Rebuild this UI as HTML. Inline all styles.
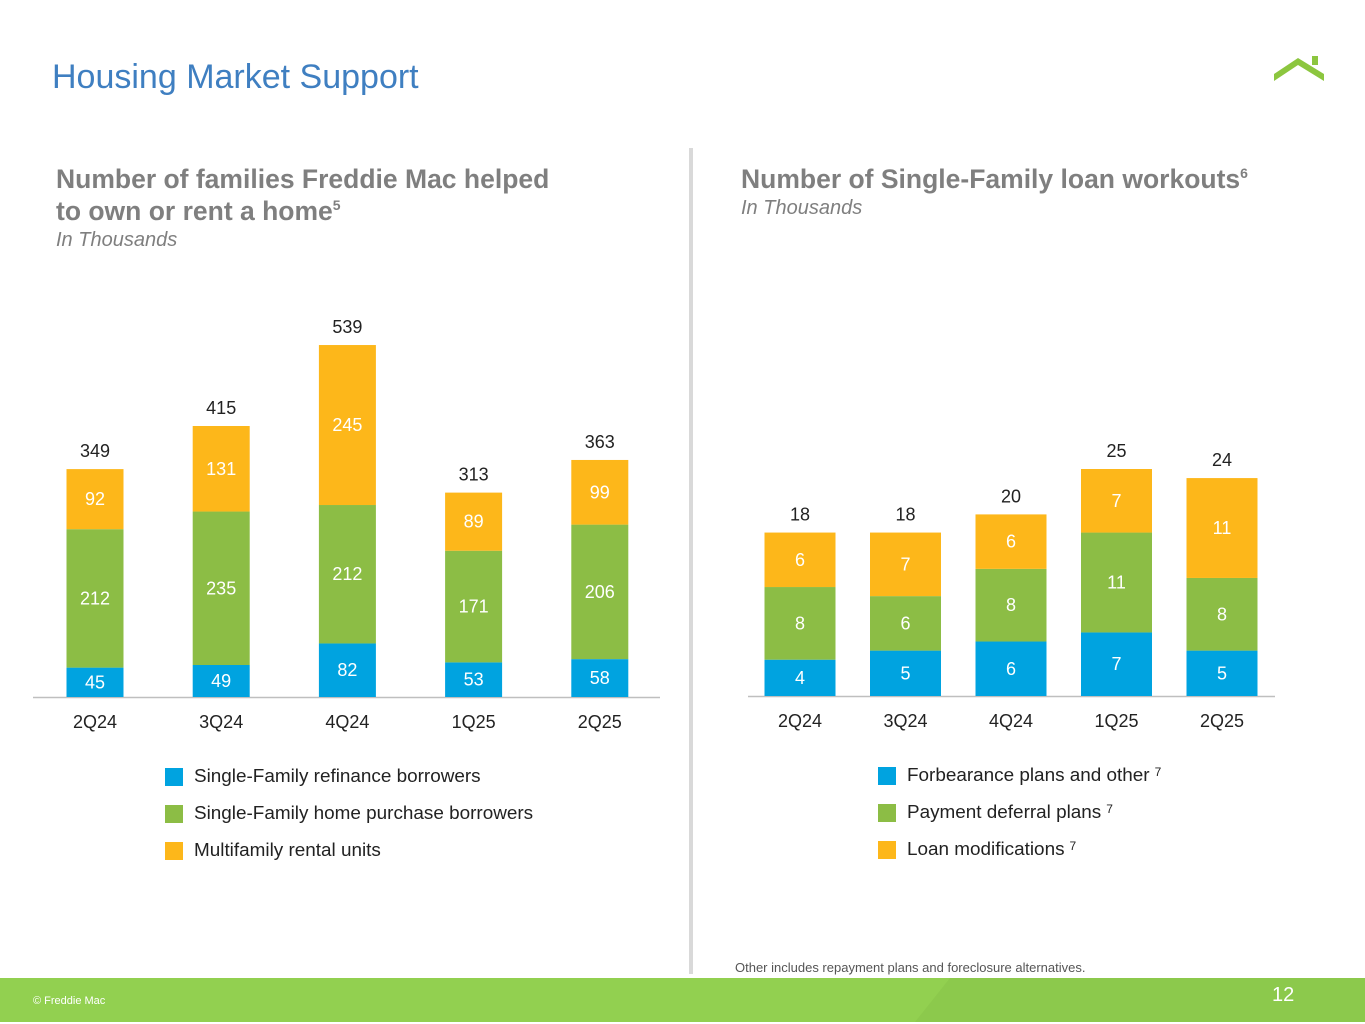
<!DOCTYPE html>
<html><head><meta charset="utf-8"><style>
body{margin:0;width:1365px;height:1024px;position:relative;background:#fff;font-family:"Liberation Sans",Arial,sans-serif;overflow:hidden}
.abs{position:absolute}
h1{position:absolute;left:52px;top:58px;margin:0;font-size:34px;font-weight:normal;color:#3f7fc1}
.ct{position:absolute;font-size:26.5px;font-weight:bold;color:#7f7f7f;line-height:32px}
.ct sup{font-size:14px;line-height:0;vertical-align:0;position:relative;top:-10px}
.sub{font-size:20px;font-style:italic;font-weight:normal;color:#7f7f7f;line-height:26px}
.leg{position:absolute;font-size:18.9px;color:#222;display:flex;align-items:center}
.leg span.sw{display:inline-block;width:18px;height:18px;margin-right:11px}
.leg sup{font-size:12px;margin-left:5px;position:relative;top:-4px}
</style></head><body>
<h1>Housing Market Support</h1>
<svg class="abs" style="left:1272px;top:54px" width="54" height="28"><polygon points="2,20 26,4 52,20 52,27 26,11 2,27" fill="#8cc63f"/><rect x="40" y="2" width="6" height="9" fill="#8cc63f"/></svg>
<div class="ct" style="left:56px;top:163px">Number of families Freddie Mac helped<br>to own or rent a home<sup>5</sup><div class="sub">In Thousands</div></div>
<div class="ct" style="left:741px;top:163px">Number of Single-Family loan workouts<sup>6</sup><div class="sub">In Thousands</div></div>
<div class="abs" style="left:689px;top:148px;width:4px;height:826px;background:#d9d9d9"></div>
<svg id="left" class="abs" style="left:0;top:0" width="690" height="760"></svg>
<svg id="right" class="abs" style="left:690px;top:0" width="675" height="760"></svg>
<div class="leg" style="left:165px;top:766px"><span class="sw" style="background:#00a3e0"></span>Single-Family refinance borrowers</div>
<div class="leg" style="left:165px;top:803px"><span class="sw" style="background:#8cbd45"></span>Single-Family home purchase borrowers</div>
<div class="leg" style="left:165px;top:840px"><span class="sw" style="background:#fdb71a"></span>Multifamily rental units</div>
<div class="leg" style="left:878px;top:765px"><span class="sw" style="background:#00a3e0"></span>Forbearance plans and other<sup>7</sup></div>
<div class="leg" style="left:878px;top:802px"><span class="sw" style="background:#8cbd45"></span>Payment deferral plans<sup>7</sup></div>
<div class="leg" style="left:878px;top:839px"><span class="sw" style="background:#fdb71a"></span>Loan modifications<sup>7</sup></div>
<div class="abs" style="left:735px;top:960px;font-size:13px;color:#555">Other includes repayment plans and foreclosure alternatives.</div>
<svg class="abs" style="left:0;top:978px" width="1365" height="44"><rect width="1365" height="44" fill="#92d050"/><polygon points="950,0 1365,0 1365,44 915,44" fill="#8cc94c"/></svg>
<div class="abs" style="left:33px;top:995px;font-size:11px;color:#fff">© Freddie Mac</div>
<div class="abs" style="left:1272px;top:984px;font-size:20px;color:#fff">12</div>
<script>
const NS="http://www.w3.org/2000/svg";
const leftCats=["2Q24","3Q24","4Q24","1Q25","2Q25"];
const leftRefi=[45,49,82,53,58];
const leftPurch=[212,235,212,171,206];
const leftMulti=[92,131,245,89,99];
const leftTotals=[349,415,539,313,363];
const rightCats=["2Q24","3Q24","4Q24","1Q25","2Q25"];
const rightForb=[4,5,6,7,5];
const rightDefer=[8,6,8,11,8];
const rightMods=[6,7,6,7,11];
const rightTotals=[18,18,20,25,24];
const colors=["#00a3e0","#8cbd45","#fdb71a"];
const names=["refi","purchase","multi"];
function el(svg,tag,a,txt){const e=document.createElementNS(NS,tag);for(const k in a)e.setAttribute(k,a[k]);if(txt!==undefined)e.textContent=txt;svg.appendChild(e);return e;}
function draw(id,cats,series,totals,o){
 const svg=document.getElementById(id);
 const y=v=>o.base-v*o.k;
 const x=i=>o.x0+i*o.step;
 const ax=el(svg,"line",{x1:o.ax1,x2:o.ax2,y1:o.base+0.5,y2:o.base+0.5,stroke:"#bfbfbf","stroke-width":1.5});
 
 
 cats.forEach((c,i)=>{
  let acc=0;
  series.forEach((s,j)=>{
   const v=s[i];
   const r=el(svg,"rect",{x:x(i)-o.w/2,y:y(acc+v),width:o.w,height:v*o.k,fill:colors[j]});
   
   
   const t=el(svg,"text",{x:x(i),y:y(acc+v/2)+6,"text-anchor":"middle","font-size":18,fill:"#fff"},v);
   
   
   acc+=v;
  });
  const tt=el(svg,"text",{x:x(i),y:y(totals[i])-12,"text-anchor":"middle","font-size":18,fill:"#222"},totals[i]);
  
  
  const cl=el(svg,"text",{x:x(i),y:o.base+31,"text-anchor":"middle","font-size":18,fill:"#222"},c);
  
  
 });
}
draw("left",leftCats,[leftRefi,leftPurch,leftMulti],leftTotals,{base:697,k:0.653,x0:95,step:126.2,w:57,ax1:33,ax2:660});
draw("right",rightCats,[rightForb,rightDefer,rightMods],rightTotals,{base:696,k:9.08,x0:110,step:105.5,w:71,ax1:58,ax2:585});
</script>
</body></html>
